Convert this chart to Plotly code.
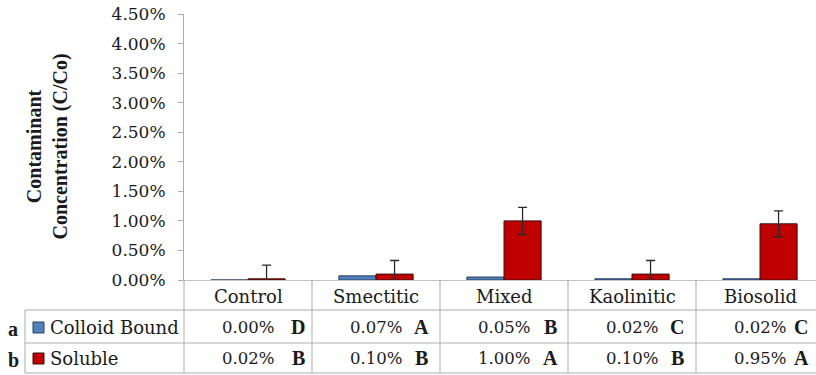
import plotly.graph_objects as go

# Treatments and measured concentrations (% of C/Co)
categories = ["Control", "Smectitic", "Mixed", "Kaolinitic", "Biosolid"]
colloid_bound = [0.00, 0.07, 0.05, 0.02, 0.02]
soluble = [0.02, 0.10, 1.00, 0.10, 0.95]
soluble_err = [0.23, 0.23, 0.23, 0.23, 0.22]

# Statistical grouping letters for each row
colloid_letters = ["D", "A", "B", "C", "C"]
soluble_letters = ["B", "B", "A", "B", "A"]
letter_shift = [50, 45, 46, 45, 41]

y_ticks = [0.0, 0.5, 1.0, 1.5, 2.0, 2.5, 3.0, 3.5, 4.0, 4.5]

SERIF_B = "Liberation Serif"
SERIF = "DejaVu Serif"
TXT = "#1a1a1a"
GRID = "#ababab"
BLUE = "#4F81BD"
RED = "#C00000"

W, H = 816, 375
L, R, T, B = 184, 0, 14, 95
plot_w, plot_h = W - L - R, H - T - B


def px(X):
    return (X - L) / plot_w


def py(Y):
    return (H - B - Y) / plot_h


xs = list(range(len(categories)))

fig = go.Figure()
fig.add_trace(go.Bar(
    x=xs, y=colloid_bound, name="Colloid Bound",
    marker=dict(color=BLUE, line=dict(color="#2c3e5c", width=1)),
))
fig.add_trace(go.Bar(
    x=xs, y=soluble, name="Soluble",
    marker=dict(color=RED, line=dict(color="#3a1010", width=1)),
    error_y=dict(type="data", array=soluble_err, visible=True,
                 color="#2a2a2a", thickness=1.3, width=4.5),
))

ann = []
shapes = []


def note(x, y, text, size, xref="x", family=SERIF, **kw):
    opts = dict(x=x, y=y, xref=xref, yref="paper", text=text, showarrow=False,
                xanchor="center", yanchor="middle",
                font=dict(family=family, size=size, color=TXT))
    opts.update(kw)
    ann.append(opts)


# Category labels row
for i, c in enumerate(categories):
    note(i, py(296), c, 18)

# Value rows with grouping letters
for row_y, vals, letters in [(py(327), colloid_bound, colloid_letters),
                             (py(358), soluble, soluble_letters)]:
    for i, (v, lt) in enumerate(zip(vals, letters)):
        note(i, row_y, f"{v:.2f}%", 16.5)
        note(i, row_y, f"<b>{lt}</b>", 20, family=SERIF_B, xshift=letter_shift[i])

# Legend cells
for row_y, label, tag, col, edge in [(327, "Colloid Bound", "a", BLUE, "#2c3e5c"),
                                     (358, "Soluble", "b", RED, "#3a1010")]:
    note(px(48), py(row_y), label, 18, xref="paper", xanchor="left")
    note(px(13), py(row_y + 2), f"<b>{tag}</b>", 20, xref="paper", family=SERIF_B)
    shapes.append(dict(type="rect", xref="paper", yref="paper",
                       x0=px(33), x1=px(44), y0=py(row_y - 5), y1=py(row_y + 6),
                       fillcolor=col, line=dict(color=edge, width=1)))

# Axis title
note(px(46.5), 0.5, "<b>Contaminant<br>Concentration (C/Co)</b>", 20,
     xref="paper", family=SERIF_B, textangle=-90)

# Data table grid
line = dict(color=GRID, width=1)
for Y in (310, 343, 373):
    shapes.append(dict(type="line", xref="paper", yref="paper",
                       x0=px(25), x1=1, y0=py(Y), y1=py(Y), line=line))
shapes.append(dict(type="line", xref="paper", yref="paper",
                   x0=px(25), x1=px(25), y0=py(310), y1=py(373), line=line))
shapes.append(dict(type="line", xref="paper", yref="paper",
                   x0=0, x1=0, y0=0, y1=py(373), line=line))
for i in range(len(categories) - 1):
    shapes.append(dict(type="line", xref="x", yref="paper",
                       x0=i + 0.5, x1=i + 0.5, y0=0, y1=py(373), line=line))

fig.update_layout(
    width=W, height=H,
    margin=dict(l=L, r=R, t=T, b=B, pad=0),
    paper_bgcolor="white", plot_bgcolor="white",
    font=dict(family=SERIF, color=TXT),
    barmode="group", bargap=0.42, bargroupgap=0,
    showlegend=False,
    annotations=ann, shapes=shapes,
    xaxis=dict(range=[-0.5, -0.5 + plot_w / 128.0], showticklabels=False,
               showgrid=False, zeroline=False, showline=True,
               linecolor="#c4c4c4", linewidth=1, ticks=""),
    yaxis=dict(range=[0, 4.5], tickvals=y_ticks,
               ticktext=[f"{v:.2f}%" for v in y_ticks],
               ticks="outside", ticklen=5, tickcolor=GRID,
               ticklabelstandoff=9,
               showline=True, linecolor=GRID, linewidth=1,
               showgrid=False, zeroline=False,
               tickfont=dict(family=SERIF, size=17, color=TXT)),
)

fig.write_html("out.html")
